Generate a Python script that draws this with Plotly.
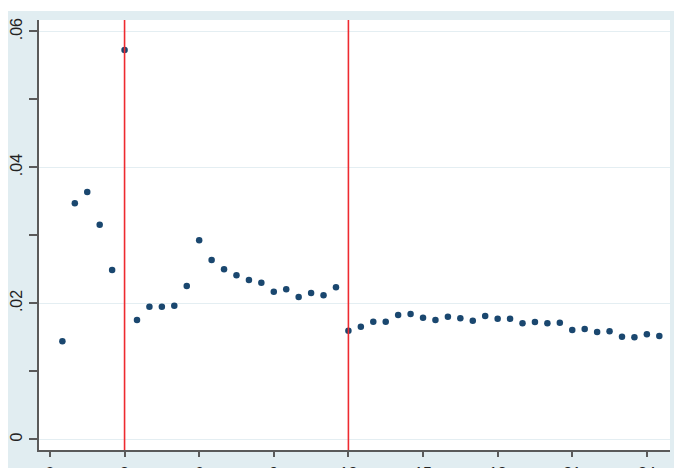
import plotly.graph_objects as go

# ---- data ----
x_vals = [0.5, 1.0, 1.5, 2.0, 2.5, 3.0, 3.5, 4.0, 4.5, 5.0, 5.5, 6.0, 6.5, 7.0, 7.5, 8.0,
          8.5, 9.0, 9.5, 10.0, 10.5, 11.0, 11.5, 12.0, 12.5, 13.0, 13.5, 14.0, 14.5, 15.0,
          15.5, 16.0, 16.5, 17.0, 17.5, 18.0, 18.5, 19.0, 19.5, 20.0, 20.5, 21.0, 21.5,
          22.0, 22.5, 23.0, 23.5, 24.0, 24.5]
y_vals = [0.01442, 0.03472, 0.03638, 0.03157, 0.02491, 0.05728, 0.01755, 0.01951, 0.01951,
          0.01966, 0.02255, 0.02928, 0.02638, 0.02501, 0.02413, 0.02344, 0.02304, 0.02172,
          0.02207, 0.02094, 0.02152, 0.02119, 0.02236, 0.01598, 0.01657, 0.01730, 0.01730,
          0.01829, 0.01843, 0.01789, 0.01755, 0.01804, 0.01780, 0.01745, 0.01814, 0.01774,
          0.01774, 0.01707, 0.01726, 0.01707, 0.01715, 0.01608, 0.01623, 0.01579, 0.01589,
          0.01509, 0.01501, 0.01545, 0.01520]
cut_points = [3, 12]
x_ticks = [0, 3, 6, 9, 12, 15, 18, 21, 24]
x_tick_labels = ["0", "3", "6", "9", "12", "15", "18", "21", "24"]
y_ticks = [0, 0.02, 0.04, 0.06]
y_tick_labels = ["0", ".02", ".04", ".06"]

W, H = 674, 468
ML, MR, MT, MB = 39, 4, 20, 18
PW, PH = W - ML - MR, H - MT - MB

BG = "#e1edf1"
AXC = "#5a5a5a"
FONT = dict(family="Arial, Liberation Sans, sans-serif", size=16, color="#222222")

fig = go.Figure()
fig.add_trace(go.Scatter(
    x=x_vals, y=y_vals, mode="markers",
    marker=dict(color="#1a476f", size=6.5, line=dict(width=0)),
    showlegend=False, hoverinfo="skip"))

shapes = []
for c in cut_points:
    shapes.append(dict(type="line", xref="x", yref="paper", x0=c, x1=c, y0=0, y1=1,
                       line=dict(color="#ee2a30", width=1.6), layer="above"))
# white outer margins (top strip and left strip)
shapes.append(dict(type="rect", xref="paper", yref="paper",
                   x0=-ML / PW, x1=(W - ML) / PW,
                   y0=(H - MB - 11) / PH, y1=(H - MB) / PH + 0.1,
                   fillcolor="white", line=dict(width=0), layer="above"))
shapes.append(dict(type="rect", xref="paper", yref="paper",
                   x0=-ML / PW - 0.05, x1=(8 - ML) / PW,
                   y0=-MB / PH - 0.1, y1=(H - MB) / PH + 0.1,
                   fillcolor="white", line=dict(width=0), layer="above"))

fig.update_layout(
    width=W, height=H,
    margin=dict(l=ML, r=MR, t=MT, b=MB, pad=0, autoexpand=False),
    paper_bgcolor=BG, plot_bgcolor="white",
    font=FONT, shapes=shapes,
    xaxis=dict(range=[-0.44, 24.93], tickmode="array", tickvals=x_ticks,
               ticktext=x_tick_labels, ticks="outside", ticklen=5, tickwidth=1.5,
               tickcolor=AXC, showgrid=False, zeroline=False, showline=True,
               linecolor=AXC, linewidth=1.5, tickfont=FONT, fixedrange=True,
               automargin=False, ticklabelstandoff=3),
    yaxis=dict(range=[-0.00157, 0.06169], tickmode="array", tickvals=y_ticks,
               ticktext=y_tick_labels, ticks="outside", ticklen=8, tickwidth=1.5,
               tickcolor=AXC, tickangle=-90, showgrid=True, gridcolor="#e4eef2",
               gridwidth=1, zeroline=False, showline=True, linecolor=AXC,
               linewidth=1.5, tickfont=FONT, ticklabelstandoff=1, automargin=False,
               minor=dict(tickvals=[0.01, 0.03, 0.05], ticks="outside", ticklen=8,
                          tickwidth=1.5, tickcolor=AXC, showgrid=False),
               fixedrange=True),
)

fig.write_html(
    "out.html",
    config={"displayModeBar": False},
    post_script="document.body.style.margin='0';document.body.style.overflow='hidden';",
)
